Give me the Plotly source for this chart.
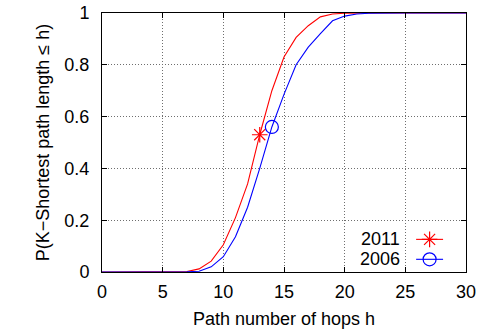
import plotly.graph_objects as go

# Path length in hops (x axis)
hops = list(range(0, 31))

# CDF of K-shortest path length, 2011 snapshot
cdf_2011 = [0, 0, 0, 0, 0, 0, 0, 0.002, 0.012, 0.042, 0.105, 0.21, 0.34, 0.53,
            0.70, 0.83, 0.906, 0.951, 0.985, 0.996, 0.999, 1, 1, 1, 1, 1, 1, 1,
            1, 1, 1]

# CDF of K-shortest path length, 2006 snapshot
cdf_2006 = [0, 0, 0, 0, 0, 0, 0, 0.001, 0.003, 0.02, 0.059, 0.136, 0.25, 0.40,
            0.56, 0.686, 0.80, 0.868, 0.92, 0.97, 0.988, 0.996, 0.999, 1, 1, 1,
            1, 1, 1, 1, 1]

series_names = ["2011", "2006"]
series_colors = ["#ff0000", "#0000ff"]
series_symbols = ["asterisk-open", "circle-open"]
# hop count at which each curve carries its point symbol
marker_hops = [13, 14]

x_ticks = [0, 5, 10, 15, 20, 25, 30]
y_ticks = [0, 0.2, 0.4, 0.6, 0.8, 1]
y_tick_text = ["0", "0.2", "0.4", "0.6", "0.8", "1"]

FONT = "Liberation Sans, Arial, sans-serif"
L, R, T, B = 102, 15, 13, 62
W, H = 481, 334

fig = go.Figure()

for name, ys, color, sym, mh in zip(series_names, [cdf_2011, cdf_2006],
                                    series_colors, series_symbols, marker_hops):
    fig.add_trace(go.Scatter(x=hops, y=ys, mode="lines",
                             line=dict(color=color, width=1.1),
                             showlegend=False, hoverinfo="skip"))
    fig.add_trace(go.Scatter(x=[mh], y=[ys[hops.index(mh)]], mode="markers",
                             marker=dict(symbol=sym, size=13, color=color,
                                         line=dict(color=color, width=1.2)),
                             showlegend=False))

# Key: sample line with symbol, drawn on an overlay axis spanning the plot area
key_rows = [0.126, 0.049]
for name, color, sym, ky in zip(series_names, series_colors, series_symbols, key_rows):
    fig.add_trace(go.Scatter(x=[0.863, 0.937], y=[ky, ky], mode="lines",
                             line=dict(color=color, width=1.1),
                             xaxis="x2", yaxis="y2", showlegend=False,
                             hoverinfo="skip"))
    fig.add_trace(go.Scatter(x=[0.9], y=[ky], mode="markers",
                             marker=dict(symbol=sym, size=13, color=color,
                                         line=dict(color=color, width=1.2)),
                             xaxis="x2", yaxis="y2", showlegend=False,
                             hoverinfo="skip"))
    fig.add_annotation(x=0.824, y=ky, xref="x2", yref="y2", text=name,
                       showarrow=False, xanchor="right", yanchor="middle",
                       font=dict(family=FONT, size=18, color="black"))

axis_common = dict(
    showline=True, linecolor="black", linewidth=1, mirror="ticks",
    ticks="inside", ticklen=5, tickcolor="black", tickwidth=1,
    showgrid=True, gridcolor="#6e6e6e", griddash="1px,2px", gridwidth=1,
    zeroline=False, automargin=False,
    tickfont=dict(family=FONT, size=18, color="black"),
)

fig.update_layout(
    width=W, height=H,
    margin=dict(l=L, r=R, t=T, b=B),
    paper_bgcolor="white", plot_bgcolor="white",
    xaxis=dict(range=[0, 30], tickvals=x_ticks, ticklabelstandoff=3,
               title=dict(text="Path number of hops h", standoff=11,
                          font=dict(family=FONT, size=18, color="black")),
               **axis_common),
    yaxis=dict(range=[0, 1], tickvals=y_ticks, ticktext=y_tick_text,
               ticklabelstandoff=8,
               title=dict(text="P(K\u2212Shortest path length \u2264 h)", standoff=10,
                          font=dict(family=FONT, size=18, color="black")),
               **axis_common),
    xaxis2=dict(range=[0, 1], overlaying="x", visible=False, fixedrange=True),
    yaxis2=dict(range=[0, 1], overlaying="y", visible=False, fixedrange=True),
    showlegend=False,
)

fig.write_html("out.html")
